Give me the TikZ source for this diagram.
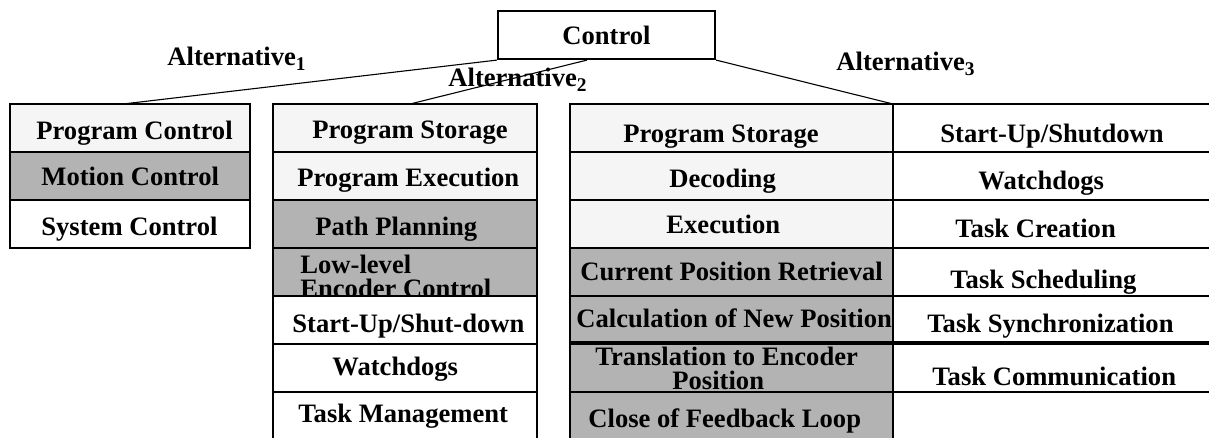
\documentclass[tikz,border=0pt]{standalone}
\usepackage{fontspec}
\setmainfont{Liberation Serif}
\definecolor{lightrow}{HTML}{F5F5F5}
\definecolor{darkrow}{HTML}{B3B3B3}
\tikzset{
  lbl/.style={anchor=base west, inner sep=0pt, font=\fontsize{13.3}{13.3}\selectfont\bfseries},
  frame/.style={line width=1.1pt},
  heavy/.style={line width=1.6pt},
  link/.style={line width=0.55pt},
}
\newcommand{\altidx}[1]{\raisebox{-2.5pt}{\fontsize{9.7}{9.7}\selectfont #1}}
\begin{document}
\begin{tikzpicture}[x=0.5pt,y=-0.5pt]
\useasboundingbox (0,0) rectangle (1209,438);

% root box
\node[draw, frame, minimum width=108.5pt, minimum height=24pt, inner sep=0pt,
      font=\fontsize{13.3}{13.3}\selectfont\bfseries] (ctrl) at (606.5,35) {Control};

% attachment points on top of the columns
\coordinate (top1) at (123,104);
\coordinate (top2) at (410,104);
\coordinate (top3) at (893,104);
\coordinate (mid) at ([xshift=45pt]ctrl.south west);

\draw[link] (ctrl.south west) -- (top1);
\draw[link] (mid) -- (top2);
\draw[link] (ctrl.south east) -- (top3);

\node[lbl] (alt1) at (167,66) {Alternative\altidx{1}};
\node[lbl] (alt2) at (448,87) {Alternative\altidx{2}};
\node[lbl] (alt3) at (836,71) {Alternative\altidx{3}};

% ---- column 1
\fill[lightrow] (10,104) rectangle (250,152);
\fill[darkrow] (10,152) rectangle (250,200);
\draw[frame] (10,104) rectangle (250,248);
\draw[frame] (10,152) -- (250,152) (10,200) -- (250,200);
\node[lbl] (a1r1) at (36,140) {Program Control};
\node[lbl] (a1r2) at (41,186) {Motion Control};
\node[lbl] (a1r3) at (41,235) {System Control};

% ---- column 2
\fill[lightrow] (273,104) rectangle (537,200);
\fill[darkrow] (273,200) rectangle (537,296);
\draw[frame] (273,438) -- (273,104) -- (537,104) -- (537,438);
\foreach \yy in {152,200,248,296,344,392}
  \draw[frame] (273,\yy) -- (537,\yy);
\node[lbl] (a2r1) at (312,139) {Program Storage};
\node[lbl] (a2r2) at (297,187) {Program Execution};
\node[lbl] (a2r3) at (315,235) {Path Planning};
\begin{scope}
  \clip (273,249) rectangle (537,295.5);
  \node[lbl] (a2r4a) at (300,273) {Low-level};
  \node[lbl] (a2r4b) at (300,297) {Encoder Control};
\end{scope}
\node[lbl] (a2r5) at (292,332) {Start-Up/Shut-down};
\node[lbl] (a2r6) at (332,375) {Watchdogs};
\node[lbl] (a2r7) at (298,422) {Task Management};

% ---- column 3 and the task list beside it
\fill[lightrow] (570,104) rectangle (893,248);
\fill[darkrow] (570,248) rectangle (893,438);
\draw[frame] (570,438) -- (570,104) -- (1209,104);
\draw[frame] (893,104) -- (893,438);
\foreach \yy in {152,200,248,296,392}
  \draw[frame] (570,\yy) -- (1209,\yy);
\draw[heavy] (570,343) -- (1209,343);

\node[lbl] (a3r1) at (623,143) {Program Storage};
\node[lbl] (a3r2) at (669,188) {Decoding};
\node[lbl] (a3r3) at (666,234) {Execution};
\node[lbl] (a3r4) at (580,280) {Current Position Retrieval};
\node[lbl] (a3r5) at (576,327) {Calculation of New Position};
\node[lbl] (a3r6a) at (595,365) {Translation to Encoder};
\node[lbl] (a3r6b) at (672,389) {Position};
\node[lbl] (a3r7) at (588,427) {Close of Feedback Loop};

\node[lbl] (t1) at (940,143) {Start-Up/Shutdown};
\node[lbl] (t2) at (978,190) {Watchdogs};
\node[lbl] (t3) at (955,238) {Task Creation};
\node[lbl] (t4) at (950,288) {Task Scheduling};
\node[lbl] (t5) at (927,332) {Task Synchronization};
\node[lbl] (t6) at (932,385) {Task Communication};
\end{tikzpicture}
\end{document}
